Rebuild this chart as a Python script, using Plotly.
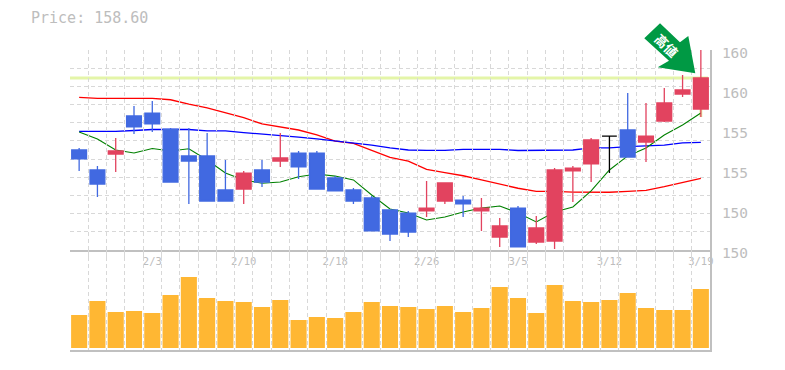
import plotly.graph_objects as go

dates = ["1/28","1/29","1/30","1/31","2/3","2/4","2/5","2/6","2/7","2/10","2/12","2/13","2/14","2/17","2/18",
         "2/19","2/20","2/21","2/25","2/26","2/27","2/28","3/2","3/3","3/5","3/6","3/9","3/10","3/11","3/12",
         "3/13","3/16","3/17","3/18","3/19"]
shown_dates = ["2/3","2/10","2/18","2/26","3/5","3/12","3/19"]
opens = [153.75,152.50,153.50,155.88,156.06,155.06,153.38,153.38,151.25,151.31,152.50,153.06,153.56,153.56,152.00,
         151.25,150.75,150.00,149.81,149.94,150.56,150.62,149.94,148.31,150.12,148.00,148.06,152.44,152.88,154.62,
         155.00,154.25,155.56,157.25,156.31]
highs = [153.88,152.75,154.50,156.50,156.81,155.12,155.12,154.81,153.12,152.44,153.12,154.81,153.69,153.69,152.12,
         151.38,150.88,150.00,149.94,151.81,151.69,150.88,150.75,149.50,150.25,149.62,152.62,152.75,154.50,154.62,
         157.31,156.69,157.62,158.44,160.00]
lows = [152.44,150.81,152.38,154.75,154.88,151.75,150.38,150.56,150.56,150.38,151.44,152.69,151.94,151.31,151.19,
        150.38,148.69,148.06,148.31,149.56,150.38,149.56,148.69,147.69,147.69,147.88,147.56,150.50,151.75,152.31,
        153.31,153.00,155.50,157.06,155.81]
closes = [153.19,151.62,153.69,155.19,155.38,151.75,153.06,150.56,150.56,152.31,151.75,153.25,152.69,151.31,151.19,
          150.56,148.69,148.50,148.62,150.12,151.69,150.38,150.12,149.00,147.69,148.88,152.50,152.62,154.38,154.62,
          153.31,154.62,156.69,157.50,158.25]
ma_short = [154.88,154.44,153.75,153.56,153.84,153.69,153.83,153.12,152.31,151.88,151.67,151.75,152.08,152.25,152.12,
            151.88,150.94,150.06,149.81,149.38,149.56,149.88,150.12,150.25,149.81,149.25,149.88,150.19,151.19,152.50,
            153.38,153.88,154.69,155.31,156.06]
ma_mid = [154.91,154.91,154.91,154.97,155.03,155.03,155.03,154.94,154.94,154.84,154.75,154.69,154.56,154.44,154.31,
          154.19,154.06,153.88,153.75,153.73,153.73,153.79,153.79,153.79,153.72,153.72,153.72,153.75,153.88,153.88,
          153.96,154.00,154.06,154.19,154.23]
ma_long = [157.04,156.98,156.98,156.98,156.98,156.89,156.61,156.38,156.08,155.77,155.38,155.17,155.00,154.69,154.31,
           154.17,153.75,153.29,153.06,152.54,152.33,152.14,151.88,151.61,151.36,151.17,151.17,151.12,151.11,151.11,
           151.17,151.23,151.46,151.73,151.98]
volumes = [33,47,36,37,35,53,71,50,47,46,41,48,28,31,30,36,46,42,41,39,42,36,40,61,50,35,63,47,46,48,55,40,38,38,59]
price_ticks = [160,157.5,155,152.5,150,147.5]
price_labels = ["160","160","155","155","150","150"]

RED, BLUE = "#e2435f", "#4169e1"
GRID, AXIS, TEXT = "#d8d8d8", "#c0c0c0", "#bdbdbd"
HILITE = "#e4f5a8"
MONO = "DejaVu Sans Mono"
PAGE = 8  # the page's own body margin
W, H = 785 - PAGE, 370 - PAGE
L, R, T, B = 70, 710, 50, 350
def px(x): return (x - L) / (R - L)
def py(y): return (B - y) / (B - T)

fig = go.Figure()
for vals, col, wid in [(ma_long, "#ff0000", 1.3), (ma_mid, "#0000ff", 1.3), (ma_short, "#008000", 1.1)]:
    fig.add_trace(go.Scatter(x=dates, y=vals, mode="lines", line=dict(color=col, width=wid), xaxis="x", yaxis="y"))

mask = [o != c for o, c in zip(opens, closes)]
fig.add_trace(go.Candlestick(
    x=dates,
    open=[o if m else None for o, m in zip(opens, mask)],
    high=[o if m else None for o, m in zip(highs, mask)],
    low=[o if m else None for o, m in zip(lows, mask)],
    close=[o if m else None for o, m in zip(closes, mask)],
    increasing=dict(line=dict(color=RED, width=1.3), fillcolor=RED),
    decreasing=dict(line=dict(color=BLUE, width=1.3), fillcolor=BLUE),
    whiskerwidth=0, xaxis="x", yaxis="y4"))
fig.add_trace(go.Candlestick(
    x=[d for d, m in zip(dates, mask) if not m],
    open=[o for o, m in zip(opens, mask) if not m],
    high=[o for o, m in zip(highs, mask) if not m],
    low=[o for o, m in zip(lows, mask) if not m],
    close=[o for o, m in zip(closes, mask) if not m],
    increasing=dict(line=dict(color="#000000", width=1.3), fillcolor="#000000"),
    decreasing=dict(line=dict(color="#000000", width=1.3), fillcolor="#000000"),
    whiskerwidth=0, xaxis="x", yaxis="y4"))
fig.add_trace(go.Bar(x=dates, y=volumes, marker=dict(color="#ffb733", line=dict(width=0)), xaxis="x2", yaxis="y2"))
fig.add_trace(go.Scatter(x=dates[:1], y=[None], mode="lines", xaxis="x", yaxis="y3", hoverinfo="skip"))

xcommon = dict(type="category", categoryorder="array", categoryarray=dates, tickson="boundaries",
               tickmode="array", tickvals=dates, showgrid=True, gridcolor=GRID, griddash="4px,3px", gridwidth=1,
               showline=True, linecolor=AXIS, linewidth=2, ticks="", zeroline=False, rangeslider=dict(visible=False))
shapes = [
    dict(type="line", xref="paper", yref="y", x0=0, x1=px(708), y0=closes[-1], y1=closes[-1],
         line=dict(color=HILITE, width=3), layer="below"),
    dict(type="line", xref="x", yref="y", x0=dates[-1], x1=dates[-1], y0=closes[-1], y1=lows[-1],
         line=dict(color=HILITE, width=3), layer="below"),
]
arrow = [(660,23.3),(680,42.3),(688.3,36),(695.3,73.3),(657.7,67.3),(669,60.7),(644.3,38.3)]
path = "M " + " L ".join(f"{px(a):.4f} {py(b):.4f}" for a, b in arrow) + " Z"
shapes.append(dict(type="path", xref="paper", yref="paper", path=path, fillcolor="#009944", line=dict(width=0), layer="above"))

fig.update_layout(
    width=W, height=H, margin=dict(l=L-PAGE, r=W-(R-PAGE), t=T-PAGE, b=H-(B-PAGE), autoexpand=False),
    paper_bgcolor="#ffffff", plot_bgcolor="rgba(0,0,0,0)", showlegend=False, boxmode="overlay", boxgap=0.19, boxgroupgap=0, bargap=0.12,
    font=dict(family=MONO, color=TEXT),
    xaxis=dict(**xcommon, ticktext=[d if d in shown_dates else "" for d in dates], showticklabels=True,
               tickfont=dict(family=MONO, size=10.5, color=TEXT), tickangle=0, anchor="y"),
    xaxis2=dict(**xcommon, ticktext=[""]*len(dates), showticklabels=False, anchor="y2"),
    yaxis=dict(domain=[1/3, 1], range=[147.5, 160], tick0=147.5, dtick=12.5/11, showticklabels=False,
               showgrid=True, gridcolor=GRID, griddash="4px,3px", zeroline=False, side="right",
               showline=True, linecolor=AXIS, linewidth=2, anchor="x"),
    yaxis2=dict(domain=[0, 1/3], range=[-2, 98], showgrid=False, showticklabels=False, zeroline=False,
                side="right", showline=True, linecolor=AXIS, linewidth=2, anchor="x2"),
    yaxis3=dict(domain=[0.3, 1], range=[147.0625, 160.1875], anchor="free", position=1, side="right",
                tickmode="array", tickvals=price_ticks, ticktext=price_labels, showgrid=False, zeroline=False,
                showline=False, ticks="outside", ticklen=8, tickcolor="rgba(0,0,0,0)",
                tickfont=dict(family=MONO, size=14.5, color=TEXT)),
    yaxis4=dict(overlaying="y", range=[147.5, 160], visible=False, showgrid=False, zeroline=False, side="right", anchor="x"),
    shapes=shapes,
    annotations=[
        dict(text="Price: 158.60", xref="paper", yref="paper", x=px(29), y=py(18), xanchor="left", yanchor="middle",
             showarrow=False, font=dict(family=MONO, size=15, color=TEXT)),
        dict(text="<b>高値</b>", xref="paper", yref="paper", x=px(667), y=py(45), xanchor="center", yanchor="middle",
             showarrow=False, textangle=45, font=dict(family="Noto Sans CJK JP", size=13, color="#ffffff")),
    ],
)
fig.write_html("out.html")
